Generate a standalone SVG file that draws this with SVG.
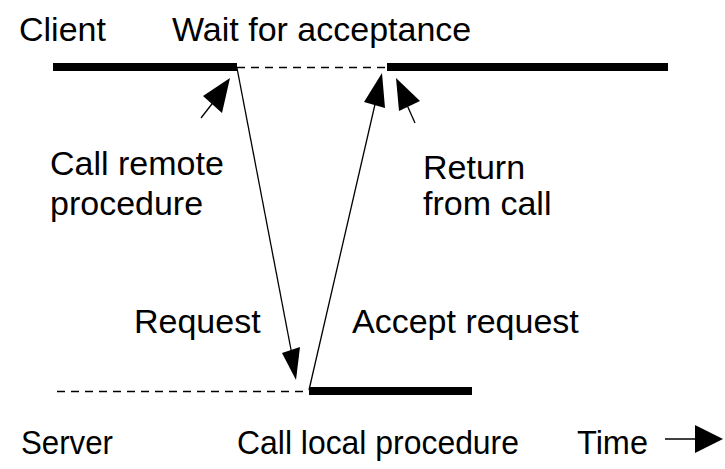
<svg xmlns="http://www.w3.org/2000/svg" width="725" height="469" viewBox="0 0 725 469">
<style>
text{font-family:"Liberation Sans",Arial,sans-serif;font-size:34px;fill:#000}
.thick{stroke:#000;stroke-width:8}
.dash{stroke:#000;stroke-width:1.3;stroke-dasharray:8,6}
.thin{stroke:#000;stroke-width:1.3;fill:none}
.head{fill:#000}
</style>
<rect width="725" height="469" fill="#fff"/>
<g id="client">
<text x="19" y="41">Client</text>
<text x="172" y="41">Wait for acceptance</text>
<line class="thick" x1="53" y1="67" x2="237" y2="67"/>
<line class="dash" x1="237" y1="67.5" x2="386" y2="67.5"/>
<line class="thick" x1="387" y1="67" x2="668" y2="67"/>
</g>
<g id="server">
<text x="21" y="454" textLength="92" lengthAdjust="spacingAndGlyphs">Server</text>
<text x="237" y="454" textLength="282" lengthAdjust="spacingAndGlyphs">Call local procedure</text>
<line class="dash" x1="57" y1="391.5" x2="309" y2="391.5"/>
<line class="thick" x1="309" y1="391" x2="472" y2="391"/>
</g>
<g id="labels">
<text x="50" y="175">Call remote</text>
<text x="50" y="215">procedure</text>
<text x="423" y="179">Return</text>
<text x="423" y="215">from call</text>
<text x="134" y="333">Request</text>
<text x="352" y="333">Accept request</text>
</g>
<g id="time">
<text x="577" y="454" textLength="71" lengthAdjust="spacingAndGlyphs">Time</text>
<line class="thin" x1="665" y1="439" x2="700" y2="439"/>
<polygon class="head" points="723,439 695,425 695,453"/>
</g>
<g id="connectors">
<line class="thin" x1="237" y1="68" x2="293" y2="360"/>
<polygon class="head" points="296,380 282,353 300,347"/>
<line class="thin" x1="309" y1="390" x2="376" y2="100"/>
<polygon class="head" points="382,73 385,108 364,102"/>
<line class="thin" x1="201" y1="118" x2="215" y2="100"/>
<polygon class="head" points="230,78 222,113 203,96"/>
<line class="thin" x1="415" y1="123" x2="407" y2="105"/>
<polygon class="head" points="396,78 420,101 399,111"/>
</g>
</svg>
